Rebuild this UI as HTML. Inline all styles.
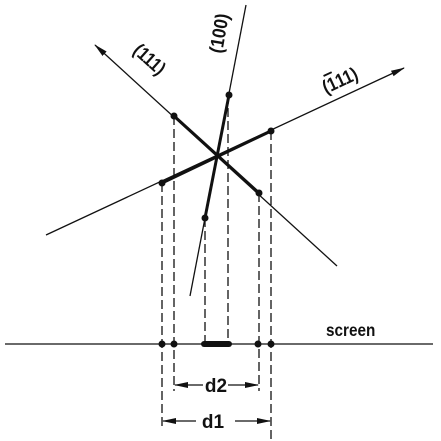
<!DOCTYPE html>
<html><head><meta charset="utf-8"><style>
html,body{margin:0;padding:0;background:#fff}
svg{display:block}
text{font-family:"Liberation Sans",sans-serif;font-weight:bold;fill:#111}
</style></head><body>
<svg width="441" height="441" viewBox="0 0 441 441">
<defs>
<marker id="ah" markerWidth="14" markerHeight="8" refX="13" refY="4" orient="auto" markerUnits="userSpaceOnUse">
<path d="M0,1 L14,4 L0,7 Z" fill="#111"/></marker>
</defs>
<g stroke="#111" fill="none">
<line x1="337" y1="266" x2="95" y2="45" stroke-width="1.3" marker-end="url(#ah)"/>
<line x1="174" y1="116" x2="259" y2="193" stroke-width="3"/>
<line x1="46" y1="235" x2="404" y2="68" stroke-width="1.3" marker-end="url(#ah)"/>
<line x1="162" y1="183" x2="271" y2="131" stroke-width="3"/>
<line x1="246" y1="5" x2="190" y2="296" stroke-width="1.3"/>
<line x1="229" y1="95" x2="205" y2="218" stroke-width="3"/>
<g stroke-dasharray="9,4" stroke-width="1.3">
<line x1="162" y1="183" x2="162" y2="428"/>
<line x1="174" y1="116" x2="174" y2="391"/>
<line x1="259" y1="193" x2="259" y2="391"/>
<line x1="271" y1="131" x2="271" y2="441"/>
<line x1="205" y1="218" x2="205" y2="343"/>
<line x1="228" y1="95" x2="228" y2="343"/>
</g>
<line x1="5" y1="344" x2="433" y2="344" stroke-width="1.3"/>
<line x1="204" y1="344" x2="229" y2="344" stroke-width="6" stroke-linecap="round"/>
<line x1="203" y1="385" x2="175" y2="385" stroke-width="1.3" marker-end="url(#ah)"/>
<line x1="228" y1="385" x2="258" y2="385" stroke-width="1.3" marker-end="url(#ah)"/>
<line x1="196" y1="421" x2="163" y2="421" stroke-width="1.3" marker-end="url(#ah)"/>
<line x1="235" y1="421" x2="270" y2="421" stroke-width="1.3" marker-end="url(#ah)"/>
</g>
<g fill="#111">
<circle cx="174" cy="116" r="3.5"/><circle cx="259" cy="193" r="3.5"/>
<circle cx="162" cy="183" r="3.5"/><circle cx="271" cy="131" r="3.5"/>
<circle cx="229" cy="95" r="3.5"/><circle cx="205" cy="218" r="3.5"/>
<circle cx="162" cy="344" r="3.5"/><circle cx="174" cy="344" r="3.5"/>
<circle cx="258" cy="344" r="3.5"/><circle cx="271" cy="344" r="3.5"/>
</g>
<text x="0" y="0" font-size="19" transform="translate(132,52) rotate(42) scale(0.85,1)">(111)</text>
<text x="0" y="0" font-size="19" transform="translate(222,54) rotate(-80) scale(0.9,1)">(100)</text>
<text x="0" y="0" font-size="19" transform="translate(326,94) rotate(-25) scale(0.85,1)">(<tspan text-decoration="overline">1</tspan>11)</text>
<text x="0" y="0" font-size="18" transform="translate(326,336) scale(0.85,1)">screen</text>
<text x="216" y="392" font-size="19" text-anchor="middle">d2</text>
<text x="213" y="428" font-size="19" text-anchor="middle">d1</text>
</svg>
</body></html>
